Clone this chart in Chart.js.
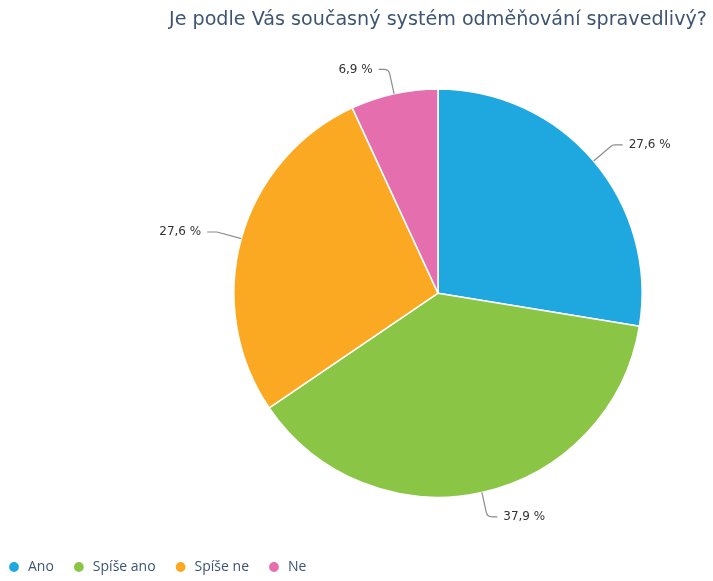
<!DOCTYPE html>
<html lang="cs">
<head>
    <meta charset="UTF-8">
    <title>Odměňování</title>
    <script src="https://cdn.jsdelivr.net/npm/chart.js"></script>
    <style>
        body { margin: 0; background: #fff; }
        #wrap { width: 713px; height: 581px; }
    </style>
</head>
<body>
<div id="wrap"><canvas id="mychart" width="713" height="581"></canvas></div>

<script>
    // data (percent of answers)
    const labels = ['Ano', 'Spíše ano', 'Spíše ne', 'Ne'];
    const shares = [27.6, 37.9, 27.6, 6.9];
    const colors = ['#1fa8e0', '#8bc546', '#fba922', '#e56eae'];
    const titleText = 'Je podle Vás současný systém odměňování spravedlivý?';

    // labels outside the pie with a small bent leader line
    const outsideLabels = {
        id: 'outsideLabels',
        afterDatasetsDraw(chart) {
            const ctx = chart.ctx;
            const meta = chart.getDatasetMeta(0);
            ctx.save();
            ctx.font = '12px "DejaVu Sans"';
            ctx.textBaseline = 'middle';
            meta.data.forEach((arc, i) => {
                const p = arc.getProps(['x', 'y', 'startAngle', 'endAngle', 'outerRadius'], true);
                const mid = (p.startAngle + p.endAngle) / 2;
                const cx = Math.cos(mid), cy = Math.sin(mid);
                const dir = cx >= 0 ? 1 : -1;
                const x0 = p.x + cx * p.outerRadius, y0 = p.y + cy * p.outerRadius;
                const x1 = p.x + cx * (p.outerRadius + 25), y1 = p.y + cy * (p.outerRadius + 25);
                const x2 = x1 + dir * 10;
                ctx.strokeStyle = '#8c8c8c';
                ctx.lineWidth = 1.2;
                ctx.beginPath();
                ctx.moveTo(x0, y0);
                ctx.arcTo(x1, y1, x2, y1, 6);
                ctx.lineTo(x2, y1);
                ctx.stroke();
                ctx.fillStyle = '#333333';
                ctx.textAlign = dir > 0 ? 'left' : 'right';
                ctx.fillText(shares[i].toFixed(1).replace('.', ',') + ' %', x2 + dir * 6, y1);
            });
            ctx.restore();
        }
    };

    // pull the legend back to the left edge and down to the bottom
    const moveLegend = {
        id: 'moveLegend',
        afterLayout(chart) {
            const lg = chart.legend;
            const h = lg.bottom - lg.top;
            lg.left = -11;
            lg.right = chart.width;
            lg.top = 542;
            lg.bottom = 542 + h;
        }
    };

    const setting = {
        type: 'pie',
        data: {
            labels: labels,
            datasets: [{
                data: shares,
                backgroundColor: colors,
                borderColor: '#ffffff',
                borderWidth: 1.5
            }]
        },
        options: {
            responsive: false,
            animation: false,
            layout: {
                padding: {left: 169, right: 6, top: 0, bottom: 41}
            },
            plugins: {
                title: {
                    display: true,
                    text: titleText,
                    align: 'end',
                    color: '#3d5573',
                    font: {family: 'DejaVu Sans', size: 19.4, weight: 'normal'},
                    padding: {top: 8, bottom: 57}
                },
                legend: {
                    position: 'bottom',
                    align: 'start',
                    labels: {
                        usePointStyle: true,
                        pointStyle: 'circle',
                        boxWidth: 14,
                        boxHeight: 8,
                        padding: 18,
                        color: '#3d5573',
                        font: {family: 'Open Sans', size: 14}
                    }
                },
                tooltip: {enabled: false}
            }
        },
        plugins: [outsideLabels, moveLegend]
    };

    new Chart(document.getElementById('mychart'), setting);
</script>
</body>
</html>
